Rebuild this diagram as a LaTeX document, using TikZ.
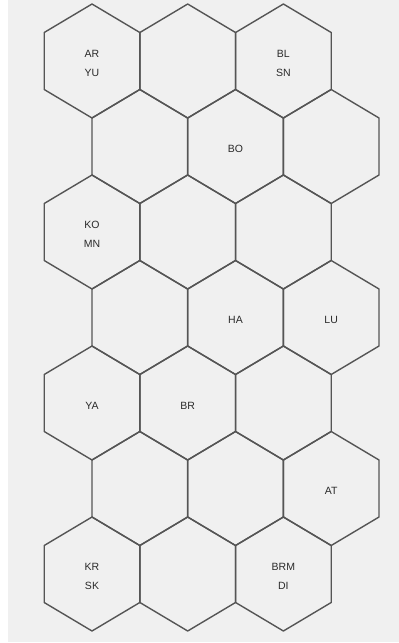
\documentclass[tikz,border=0pt]{standalone}
\usepackage{fontspec}
\setmainfont{Liberation Sans}
\usepackage{xcolor}
\usepackage{tikz}
\definecolor{panelgrey}{HTML}{F0F0F0}
\definecolor{hexgrey}{HTML}{555555}
\definecolor{tagink}{HTML}{2A2A2A}

\begin{document}
\begin{tikzpicture}[x=1pt,y=-1pt,
  hexline/.style={draw=hexgrey,line width=1.4pt,line join=round},
  tag/.style={font=\fontsize{10.5}{19}\selectfont,text=tagink,align=center,
    inner sep=0pt,yshift=-2.5pt}
]
  \useasboundingbox (0,0) rectangle (399,643);
  \fill[white] (0,0) rectangle (399,643);
  \fill[panelgrey] (8,0) rectangle (399,642);

  % honeycomb, seven rows of three cells
  \foreach \row in {0,...,6} {
    \pgfmathsetmacro\cy{61+85.5*\row}
    \pgfmathsetmacro\off{mod(\row,2)*47.8}
    \foreach \col in {0,1,2} {
      \pgfmathsetmacro\cx{92+95.7*\col+\off}
      \coordinate (h\row\col) at (\cx,\cy);
      \draw[hexline] (h\row\col) +(0,-57) -- +(47.8,-28.5) -- +(47.8,28.5)
        -- +(0,57) -- +(-47.8,28.5) -- +(-47.8,-28.5) -- cycle;
    }
  }

  \node[tag] (arYu)  at (h00) {AR\\YU};
  \node[tag] (blSn)  at (h02) {BL\\SN};
  \node[tag] (bo)    at (h11) {BO};
  \node[tag] (koMn)  at (h20) {KO\\MN};
  \node[tag] (ha)    at (h31) {HA};
  \node[tag] (lu)    at (h32) {LU};
  \node[tag] (ya)    at (h40) {YA};
  \node[tag] (br)    at (h41) {BR};
  \node[tag] (at)    at (h52) {AT};
  \node[tag] (krSk)  at (h60) {KR\\SK};
  \node[tag] (brmDi) at (h62) {BRM\\DI};
\end{tikzpicture}
\end{document}
